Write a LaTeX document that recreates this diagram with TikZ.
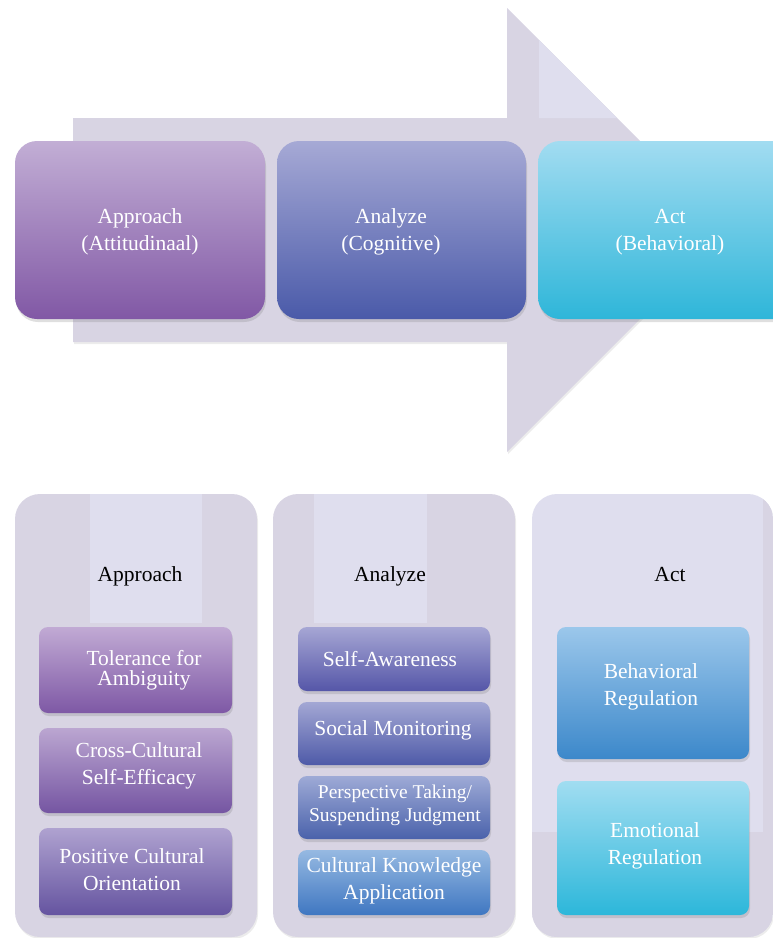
\documentclass[tikz,border=0pt]{standalone}
\usepackage{fontspec}
\setmainfont{Liberation Serif}
\usepackage{xcolor}
\usepackage{tikz}
\usetikzlibrary{shadows,positioning}

\definecolor{bandgray}{HTML}{D8D4E3}
\definecolor{bandlight}{HTML}{DFDEEE}

\begin{document}
\begin{tikzpicture}[x=1pt,y=-1pt,
    bigbox/.style={rectangle,rounded corners=22pt,minimum height=178pt,
      drop shadow={shadow xshift=1pt,shadow yshift=-3pt,opacity=0.25}},
    panel/.style={rectangle,rounded corners=25pt,fill=bandgray,minimum width=242pt,minimum height=443pt,
      drop shadow={shadow xshift=1pt,shadow yshift=-2pt,opacity=0.15}},
    subbox/.style={rectangle,rounded corners=9pt,
      drop shadow={shadow xshift=1pt,shadow yshift=-3pt,opacity=0.25}},
    boxtext/.style={text=white,align=center,font=\fontsize{21.5}{27}\selectfont},
    headtext/.style={text=black,anchor=base,font=\fontsize{21.5}{27}\selectfont}]
    \useasboundingbox (0,0) rectangle (773,938);
    % big arrow
    \fill[bandgray,drop shadow={shadow xshift=1pt,shadow yshift=-2pt,opacity=0.15}]
      (73,118) -- (507,118) -- (507,8) -- (729,230) -- (507,452) -- (507,342) -- (73,342) -- cycle;
    \fill[bandlight] (539,40) -- (617,118) -- (539,118) -- cycle;
    % top boxes
    \node[bigbox,minimum width=250pt,
      top color={rgb,255:red,194;green,174;blue,213},middle color={rgb,255:red,172;green,143;blue,198},
      bottom color={rgb,255:red,129;green,88;blue,165}] (appr) at (140,230) {};
    \node[bigbox,minimum width=249pt,
      top color={rgb,255:red,166;green,169;blue,213},middle color={rgb,255:red,130;green,137;blue,197},
      bottom color={rgb,255:red,74;green,90;blue,169}] (anal) at (401.5,230) {};
    \node[bigbox,minimum width=264pt,
      top color={rgb,255:red,162;green,220;blue,241},middle color={rgb,255:red,118;green,205;blue,233},
      bottom color={rgb,255:red,46;green,182;blue,217}] (act) at (670,230) {};
    % lower panels
    \node[panel] (p1) at (136,715.5) {};
    \fill[bandlight] (90,494) rectangle (202,623);
    \node[panel] (p2) at (394,715.5) {};
    \fill[bandlight] (314,494) rectangle (427,623);
    \node[panel,fill=bandlight,minimum width=241pt] (p3) at (652.5,715.5) {};
    \begin{scope}
      \clip[rounded corners=25pt] (532,494) rectangle (773,937);
      \fill[bandgray] (763,494) rectangle (773,937);
      \fill[bandgray] (532,832) rectangle (773,937);
    \end{scope}
    % approach boxes
    \node[subbox,minimum width=193pt,minimum height=86pt,
      top color={rgb,255:red,193;green,170;blue,212},bottom color={rgb,255:red,126;green,88;blue,165}] (tol) at (135.5,670) {};
    \node[subbox,minimum width=193pt,minimum height=85pt,
      top color={rgb,255:red,187;green,166;blue,209},bottom color={rgb,255:red,117;green,85;blue,162}] (cro) at (135.5,770.5) {};
    \node[subbox,minimum width=193pt,minimum height=87pt,
      top color={rgb,255:red,175;green,162;blue,208},bottom color={rgb,255:red,101;green,84;blue,160}] (pos) at (135.5,871.5) {};
    % analyze boxes
    \node[subbox,minimum width=192pt,minimum height=64pt,
      top color={rgb,255:red,166;green,166;blue,212},bottom color={rgb,255:red,85;green,86;blue,168}] (saw) at (394,659) {};
    \node[subbox,minimum width=192pt,minimum height=63pt,
      top color={rgb,255:red,163;green,167;blue,212},bottom color={rgb,255:red,78;green,90;blue,168}] (smo) at (394,733.5) {};
    \node[subbox,minimum width=192pt,minimum height=63pt,
      top color={rgb,255:red,158;green,170;blue,214},bottom color={rgb,255:red,74;green,98;blue,171}] (per) at (394,807.5) {};
    \node[subbox,minimum width=192pt,minimum height=65pt,
      top color={rgb,255:red,150;green,185;blue,226},bottom color={rgb,255:red,63;green,119;blue,193}] (ckn) at (394,882.5) {};
    % act boxes
    \node[subbox,minimum width=192pt,minimum height=132pt,
      top color={rgb,255:red,155;green,199;blue,235},bottom color={rgb,255:red,60;green,136;blue,202}] (beh) at (653,693) {};
    \node[subbox,minimum width=192pt,minimum height=134pt,
      top color={rgb,255:red,161;green,221;blue,241},bottom color={rgb,255:red,44;green,183;blue,218}] (emo) at (653,848) {};
    % text nodes
    \node[boxtext] (appr-t) at (140,232) {Approach\\(Attitudinaal)};
    \node[boxtext] (anal-t) at (391,232) {Analyze\\(Cognitive)};
    \node[boxtext] (act-t) at (670,232) {Act\\(Behavioral)};
    \node[headtext] (h1) at (140,581) {Approach};
    \node[headtext] (h2) at (390,581) {Analyze};
    \node[headtext] (h3) at (670,581) {Act};
    \node[boxtext,font=\fontsize{21.5}{20}\selectfont] (tol-t) at (144,670) {Tolerance for\\Ambiguity};
    \node[boxtext] (cro-t) at (139,766) {Cross-Cultural\\Self-Efficacy};
    \node[boxtext] (pos-t) at (132,870) {Positive Cultural\\Orientation};
    \node[boxtext] (saw-t) at (390,659) {Self-Awareness};
    \node[boxtext] (smo-t) at (393,730) {Social Monitoring};
    \node[boxtext,font=\fontsize{19.5}{23}\selectfont] (per-t) at (395,805) {Perspective Taking/\\Suspending Judgment};
    \node[boxtext] (ckn-t) at (394,881) {Cultural Knowledge\\Application};
    \node[boxtext] (beh-t) at (651,687) {Behavioral\\Regulation};
    \node[boxtext] (emo-t) at (655,846) {Emotional\\Regulation};
\end{tikzpicture}
\end{document}
